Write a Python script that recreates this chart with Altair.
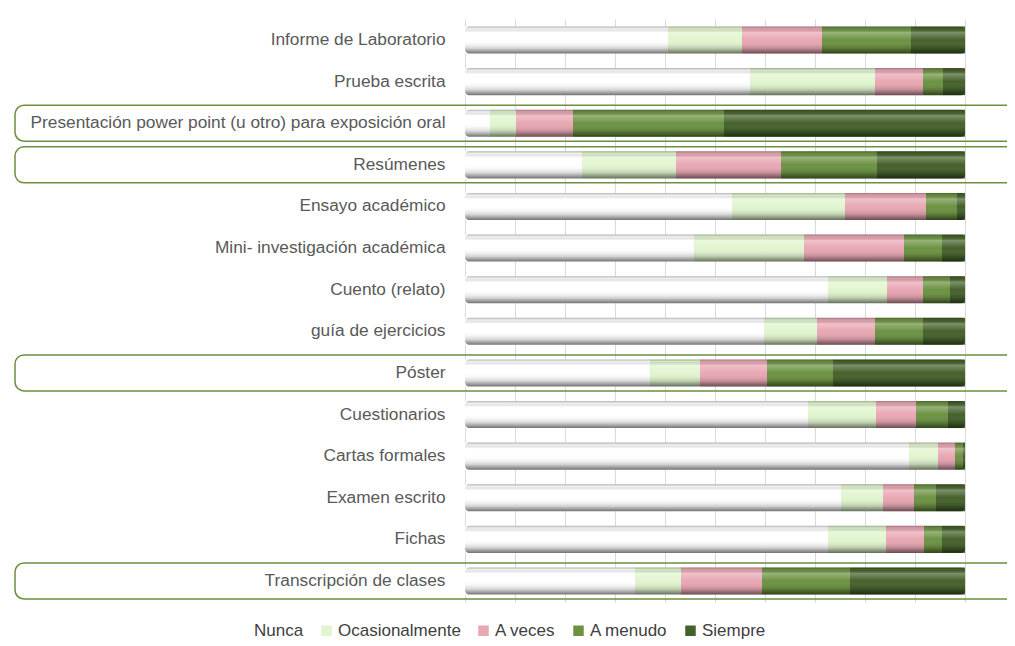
import altair as alt
import pandas as pd

categories = [
    "Informe de Laboratorio",
    "Prueba escrita",
    "Presentación power point (u otro) para exposición oral",
    "Resúmenes",
    "Ensayo académico",
    "Mini- investigación académica",
    "Cuento (relato)",
    "guía de ejercicios",
    "Póster",
    "Cuestionarios",
    "Cartas formales",
    "Examen escrito",
    "Fichas",
    "Transcripción de clases",
]
series = ["Nunca", "Ocasionalmente", "A veces", "A menudo", "Siempre"]
nunca = [40.6, 57.0, 5.0, 23.4, 53.4, 45.8, 72.6, 59.8, 37.0, 68.6, 88.8, 75.2, 72.6, 34.0]
ocasionalmente = [14.8, 25.0, 5.2, 18.8, 22.6, 22.0, 11.8, 10.6, 10.0, 13.6, 5.8, 8.4, 11.6, 9.2]
a_veces = [16.0, 9.6, 11.4, 21.0, 16.2, 20.0, 7.2, 11.6, 13.4, 8.0, 3.4, 6.2, 7.6, 16.2]
a_menudo = [17.8, 4.0, 30.2, 19.2, 6.2, 7.6, 5.4, 9.6, 13.2, 6.4, 1.6, 4.4, 3.6, 17.6]
siempre = [10.8, 4.4, 48.2, 17.6, 1.6, 4.6, 3.0, 8.4, 26.4, 3.4, 0.4, 5.8, 4.6, 23.0]
highlighted = ["Presentación power point (u otro) para exposición oral", "Resúmenes", "Póster",
               "Transcripción de clases"]
colors = ["#ffffff", "#e1f5cf", "#e8a7b3", "#6c9242", "#45612b"]

rows = []
for s_idx, (s, vals) in enumerate(zip(series, [nunca, ocasionalmente, a_veces, a_menudo, siempre])):
    for c, v in zip(categories, vals):
        rows.append({"categoria": c, "serie": s, "valor": v, "orden": s_idx})
df = pd.DataFrame(rows)
cat_df = pd.DataFrame({"categoria": categories})
hl_df = pd.DataFrame({"categoria": highlighted})

y_enc = alt.Y("categoria:N", sort=categories, title=None,
              scale=alt.Scale(paddingInner=0.35, paddingOuter=0.18),
              axis=alt.Axis(labelFontSize=17.3, labelColor="#595959", labelFont="Liberation Sans",
                            labelPadding=20, labelLimit=600, ticks=False, domain=False, grid=False))

bars = alt.Chart(df).mark_bar().encode(
    x=alt.X("valor:Q", stack="normalize", title=None,
            scale=alt.Scale(domain=[0, 1], nice=False),
            axis=alt.Axis(grid=True, gridColor="#d9d9d9", gridWidth=1, tickCount=10, labels=False,
                          ticks=False, domain=False)),
    y=y_enc,
    color=alt.Color("serie:N", sort=series,
                    scale=alt.Scale(domain=series, range=colors),
                    legend=alt.Legend(title=None, orient="none", direction="horizontal",
                                      legendX=-231, legendY=603, symbolType="square", symbolSize=110,
                                      symbolStrokeWidth=0, labelFontSize=17, labelColor="#404040",
                                      labelFont="Liberation Sans", columnPadding=14, labelOffset=3)),
    order=alt.Order("orden:Q"),
)

shade = alt.Chart(cat_df).mark_bar(
    fill=alt.Gradient(
        gradient="linear", x1=0, x2=0, y1=0, y2=1,
        stops=[
            alt.GradientStop(offset=0, color="rgba(0,0,0,0.30)"),
            alt.GradientStop(offset=0.08, color="rgba(0,0,0,0.06)"),
            alt.GradientStop(offset=0.22, color="rgba(255,255,255,0.30)"),
            alt.GradientStop(offset=0.5, color="rgba(255,255,255,0.0)"),
            alt.GradientStop(offset=0.8, color="rgba(0,0,0,0.16)"),
            alt.GradientStop(offset=1, color="rgba(0,0,0,0.55)"),
        ]),
    cornerRadius=4,
).encode(
    x=alt.X("ini:Q"),
    x2="fin:Q",
    y=alt.Y("categoria:N", sort=categories),
).transform_calculate(ini="0", fin="1")

boxes = alt.Chart(hl_df).mark_bar(
    size=36, cornerRadius=9, fill="transparent", stroke="#6b8f3f", strokeWidth=1.5
).encode(
    x=alt.value(-450),
    x2=alt.value(560),
    y=alt.Y("categoria:N", sort=categories),
)

chart = alt.layer(bars, shade, boxes).properties(
    width=500, height=583,
    padding={"left": 457, "top": 11, "right": 42, "bottom": 42},
    autosize="none",
).configure_view(stroke=None)

chart.save("out.html", embed_options={"renderer": "svg", "actions": False})
